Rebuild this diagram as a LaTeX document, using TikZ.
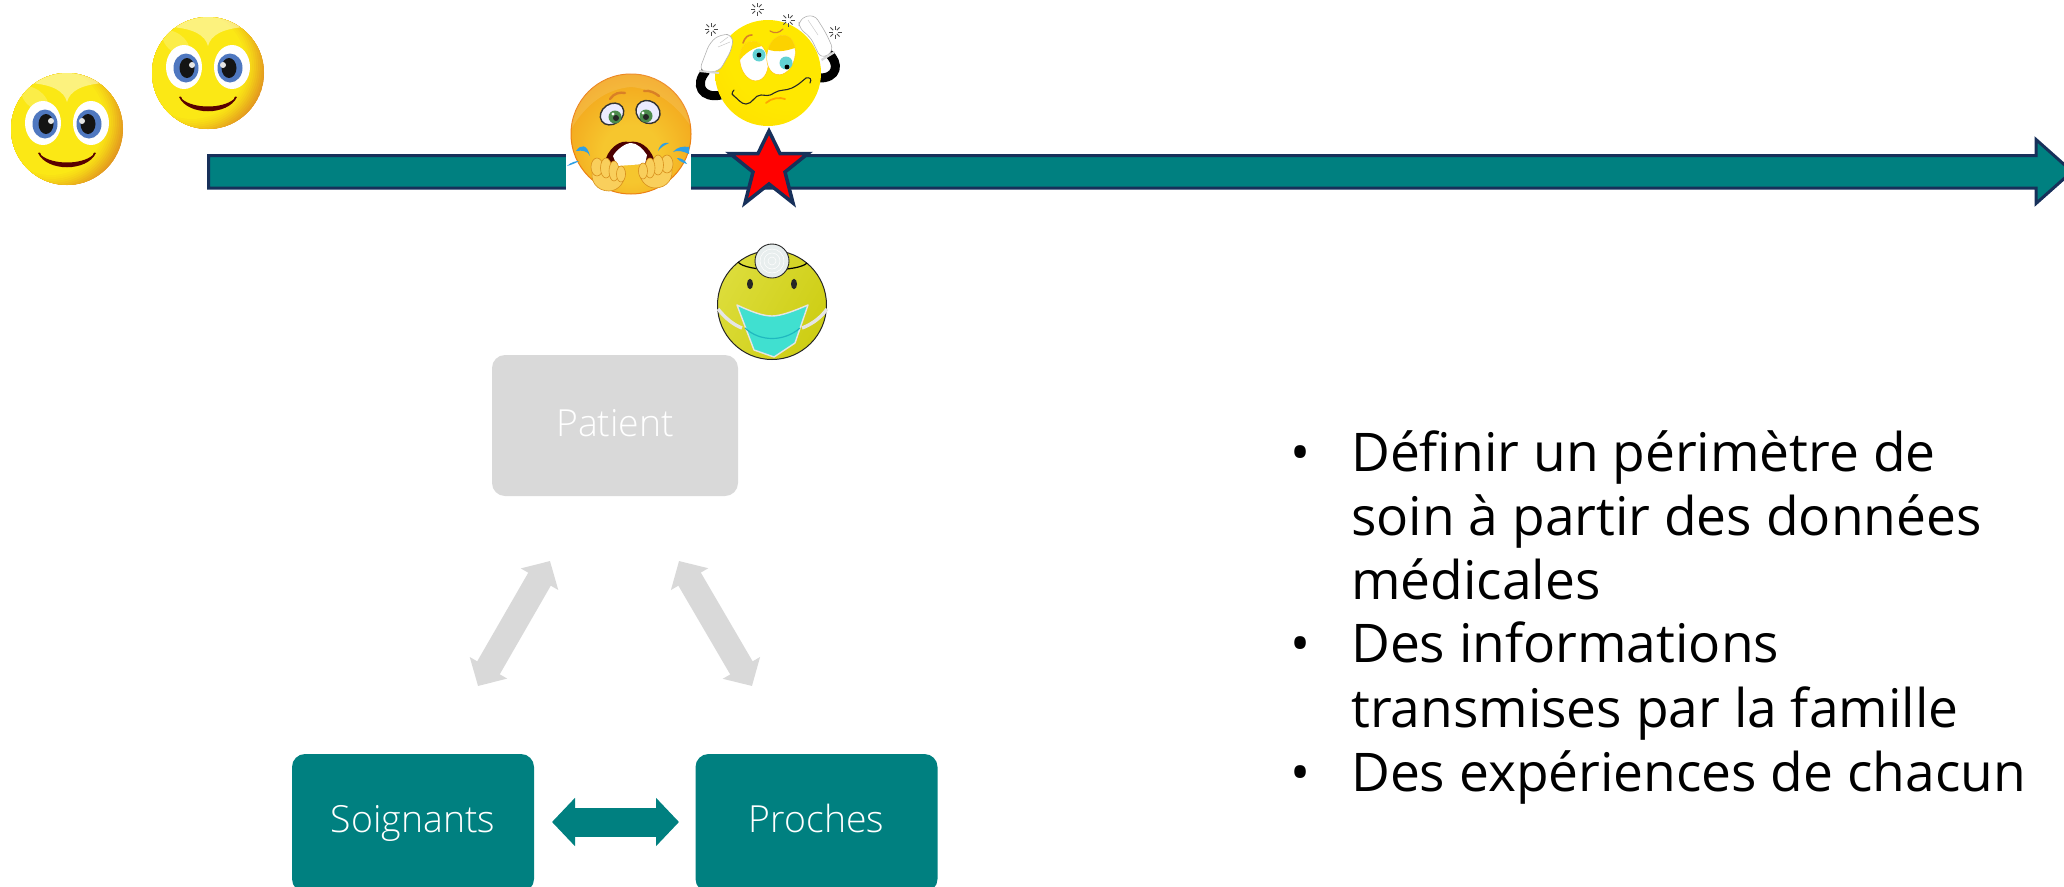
\documentclass[tikz,border=0pt]{standalone}
\usepackage{fontspec}
\setmainfont{Open Sans}
\newfontfamily\lightf{Open Sans Light}
\usetikzlibrary{arrows.meta}
\definecolor{tealc}{HTML}{008080}
\definecolor{navyc}{HTML}{17305A}
\definecolor{greyc}{HTML}{D9D9D9}
\definecolor{hy}{HTML}{FBE815}
\definecolor{ho}{HTML}{E2961F}
\definecolor{hiris}{HTML}{4F78C0}
\definecolor{oy}{HTML}{F6C62E}
\definecolor{oo}{HTML}{F3A91E}
\definecolor{oe}{HTML}{EC8A12}
\definecolor{wy}{HTML}{FFE800}
\definecolor{wo}{HTML}{FFD000}
\definecolor{wlid}{HTML}{FCD200}
\definecolor{wiris}{HTML}{62D2D4}
\definecolor{dy1}{HTML}{E4E44E}
\definecolor{dy2}{HTML}{C6C600}
\definecolor{maskc}{HTML}{40E0D0}
\definecolor{foldc}{HTML}{20B8C0}
\definecolor{tearc}{HTML}{2FA0E4}
\definecolor{handc}{HTML}{F9CF5C}
\definecolor{handl}{HTML}{D8901C}
\definecolor{mirrorc}{HTML}{E8EEEE}
\pgfdeclareradialshading{orangeball}{\pgfpoint{0bp}{-10bp}}{color(0bp)=(oy); color(12bp)=(oy); color(28bp)=(oo); color(50bp)=(oe); color(65bp)=(oe)}
\pgfdeclareradialshading{yellowball}{\pgfpoint{16bp}{20bp}}{color(0bp)=(wy); color(30bp)=(wy); color(70bp)=(wo); color(90bp)=(wo)}
\pgfdeclarehorizontalshading{docball}{100bp}{color(0bp)=(dy1); color(100bp)=(dy2)}
\tikzset{
  tealbox/.style={rectangle,rounded corners=13bp,fill=tealc,draw=none,inner sep=0pt,text=white,font=\lightf\fontsize{37.5}{45}\selectfont,text height=30bp},
  greybox/.style={tealbox,fill=greyc},
  bul/.style={anchor=base,inner sep=0pt,font=\fontsize{53.5}{64}\selectfont},
  line/.style={anchor=base west,inner sep=0pt,font=\fontsize{53.5}{64}\selectfont},
  finger/.style={fill=handc,draw=handl,line width=.6bp},
  spark/.pic={\foreach \a in {0,45,...,315}{\draw[line width=.9bp,black!70] (\a:2.5)--(\a:6.5);}},
  pics/fistp/.style={code={
    \begin{scope}[xscale=#1]
    \filldraw[finger] (-16,-4) .. controls (-20,8) and (-12,18) .. (0,18) .. controls (10,18) and (17,8) .. (16,-2) -- cycle;
    \filldraw[finger] (-12,-6) ellipse [x radius=6,y radius=9];
    \filldraw[finger] (-3,-5) ellipse [x radius=5.5,y radius=10];
    \filldraw[finger] (5,-2) ellipse [x radius=5,y radius=10];
    \filldraw[finger] (12,1) ellipse [x radius=4.5,y radius=8];
    \end{scope}
  }},
  pics/happy/.style={code={
    \begin{scope}
      \clip (0,0) circle (56);
      \fill[ho] (0,0) circle (57);
      \foreach \r/\p in {74/5,72/15,70/26,68/37,66/48,64/59,62/69,60/78,58/86,56/93,54/100}{
        \fill[hy!\p!ho] (-16,-8) circle (\r);
      }
      \fill[white,opacity=.45] (0,-27) .. controls (-3,-38) and (-14,-44) .. (-36,-46) -- (-36,-60) -- (36,-60) -- (36,-46) .. controls (14,-44) and (3,-38) .. (0,-27) -- cycle;
      \fill[white,opacity=.22,rotate around={-40:(-32,-30)}] (-32,-30) ellipse [x radius=16,y radius=9];
    \end{scope}
    \fill[white] (-24,-6) ellipse [x radius=18,y radius=22];
    \fill[white] (24,-6) ellipse [x radius=18,y radius=22];
    \fill[hiris] (-22,-5) ellipse [x radius=12.5,y radius=14.5];
    \fill[hiris] (22,-5) ellipse [x radius=12.5,y radius=14.5];
    \fill[black!92] (-21,-5) ellipse [x radius=7.5,y radius=10];
    \fill[black!92] (21,-5) ellipse [x radius=7.5,y radius=10];
    \fill[white!90!black] (-16,-8) circle (3);
    \fill[white!90!black] (15,-8) circle (3);
    \fill[red!35!black] (-29,24) .. controls (-20,43) and (20,43) .. (29,24) .. controls (29,23) and (26,23) .. (26,26) .. controls (15,36) and (-15,36) .. (-26,26) .. controls (-26,23) and (-29,23) .. (-29,24) -- cycle;
  }},
  pics/crying/.style={code={
    \shade[shading=orangeball] (0,0) circle (60);
    \draw[orange!70!brown,line width=1bp] (0,0) circle (60);
    \fill[white,opacity=.12] (0,-60) arc (-90:-175:60) .. controls (-45,-30) and (-25,-45) .. (0,-47) .. controls (25,-45) and (45,-30) .. (59.5,-8) arc (-5:-90:60) -- cycle;
    % brows
    \draw[orange!40!brown,line width=2.4bp,line cap=round] (-21,-35) .. controls (-17,-41) and (-11,-42) .. (-6,-41);
    \draw[orange!40!brown,line width=2.4bp,line cap=round] (13,-43) .. controls (19,-44) and (24,-41) .. (28,-38);
    % eyes
    \filldraw[fill=blue!8!white,draw=black!80,line width=1.4bp,rotate around={35:(-19,-20)}] (-19,-20) ellipse [x radius=12.5,y radius=10];
    \filldraw[fill=blue!8!white,draw=black!80,line width=1.4bp,rotate around={-35:(17,-22)}] (17,-22) ellipse [x radius=12.5,y radius=11];
    \fill[green!35!black!70] (-16,-17) circle (6.5);
    \fill[green!35!black!70] (15,-18) circle (6.5);
    \fill[black!85] (-15,-16) circle (3);
    \fill[black!85] (15,-17) circle (3);
    \fill[white] (-18,-20) circle (1.6);
    \fill[white] (12,-21) circle (1.6);
    % mouth
    \fill[red!30!black] (-25,24) .. controls (-20,12) and (-10,6) .. (-2,8) .. controls (8,6) and (18,12) .. (23,25) -- (20,30) -- (-22,30) -- cycle;
    \fill[white] (-18,22) .. controls (-14,15) and (-5,9) .. (0,9) .. controls (6,9) and (12,15) .. (16,21) -- (14,30) -- (-14,32) -- cycle;
    % tears
    \fill[tearc] (-55,17) .. controls (-50,10) and (-44,10) .. (-41,22) .. controls (-43,17) and (-49,16) .. (-55,17) -- cycle;
    \fill[tearc] (27,17) .. controls (29,10) and (33,8) .. (38,9) .. controls (34,11) and (30,13) .. (27,17) -- cycle;
    \fill[tearc] (42,18) .. controls (46,13) and (52,12) .. (58,13) -- (58,20) .. controls (52,17) and (46,16) .. (42,18) -- cycle;
    \fill[tearc] (46,24) .. controls (50,24) and (54,26) .. (56,30) .. controls (52,29) and (48,27) .. (46,24) -- cycle;
    \fill[tearc] (-64,32) .. controls (-60,28) and (-55,27) .. (-52,27) .. controls (-55,29) and (-60,31) .. (-64,32) -- cycle;
    \pic at (-22,39) {fistp=1};
    \pic at (24,36) {fistp=-1};
  }},
  pics/worried/.style={code={
    % arms
    \draw[black,line width=9bp] (-62,-2) .. controls (-74,12) and (-66,26) .. (-47,22);
    \draw[black,line width=9bp] (60,-20) .. controls (72,-10) and (70,6) .. (50,5);
    % face
    \shade[shading=yellowball] (0,0) circle (53);
    % eyes
    \filldraw[fill=white,draw=orange!50!yellow,line width=.4bp,rotate around={10:(-14,-12)}] (-14,-12) ellipse [x radius=14,y radius=20];
    \filldraw[fill=white,draw=orange!50!yellow,line width=.4bp,rotate around={-12:(13,-18)}] (13,-18) ellipse [x radius=14,y radius=20];
    \begin{scope}
      \clip[rotate around={-12:(13,-18)}] (13,-18) ellipse [x radius=14,y radius=20];
      \fill[wlid] (-5,-45) rectangle (35,-26) (-5,-26) .. controls (5,-20) and (15,-20) .. (35,-28) -- cycle;
    \end{scope}
    \begin{scope}
      \clip[rotate around={10:(-14,-12)}] (-14,-12) ellipse [x radius=14,y radius=20];
      \fill[wy!50!wo] (-32,-8) .. controls (-26,-16) and (-20,-24) .. (-6,-27) -- (-6,-40) -- (-32,-40) -- cycle;
    \end{scope}
    \fill[wiris] (-9,-18) circle (6.5);
    \fill[wiris] (18,-10) circle (6.5);
    \fill[black] (-9,-18) circle (2.4);
    \fill[black] (19,-6) circle (2.4);
    % brows
    \draw[orange!40!brown,line width=1.6bp,line cap=round] (-25,-30) .. controls (-23,-36) and (-20,-38) .. (-16,-38);
    \draw[orange!30!brown,line width=1.2bp,line cap=round] (2,-42) .. controls (7,-39) and (11,-40) .. (15,-44);
    % mouth
    \draw[black!85,line width=1.1bp,line cap=round] (-34,17) .. controls (-37,20) and (-36,23) .. (-34,23) .. controls (-30,26) and (-27,31) .. (-22,31) .. controls (-15,31) and (-14,22) .. (-7,22) .. controls (-2,22) and (0,24) .. (6,20) .. controls (12,16) and (18,18) .. (24,15) .. controls (30,12) and (32,10) .. (38,5) .. controls (42,4) and (44,6) .. (42,10);
    \draw[orange!70!yellow,line width=1.8bp,line cap=round] (-2,30) .. controls (3,25) and (12,24) .. (17,26);
    % gloves
    \filldraw[fill=white,draw=black!30,line width=.6bp,rounded corners=7bp] (-69,-2) -- (-58,-31) -- (-47,-39) -- (-35,-38) -- (-36,-24) -- (-49,-1) -- cycle;
    \filldraw[fill=white,draw=black!30,line width=.6bp,rounded corners=7bp] (31,-44) -- (31,-54) -- (46,-59) -- (58,-40) -- (66,-22) -- (53,-14) -- (42,-37) -- cycle;
    \fill[black!15] (-69,-3) -- (-49,-1) -- (-49,1) -- (-69,-1) -- cycle;
    \fill[black!15] (66,-22) -- (53,-14) -- (54,-12) -- (67,-20) -- cycle;
    \draw[black!25,line width=.4bp] (-48,-30) -- (-40,-36) (-50,-26) -- (-38,-31) (40,-53) -- (50,-38);
    % sparks
    \pic at (-57,-44) {spark};
    \pic at (-11,-64) {spark};
    \pic at (20,-53) {spark};
    \pic at (67,-41) {spark};
  }},
  pics/doctor/.style={code={
    \shade[shading=docball,shading angle=-30] (0,0) circle (54.5);
    \draw[black!85,line width=1bp] (0,0) circle (54.5);
    \draw[black,line width=1.2bp] (-34,-43) .. controls (-26,-33) and (26,-33) .. (35,-42);
    \fill[black!85] (-22,-21) ellipse [x radius=3,y radius=5.2];
    \fill[black!85] (22,-21) ellipse [x radius=3,y radius=5.2];
    \draw[black!10,line width=3.4bp] (-54,4) .. controls (-46,14) and (-38,20) .. (-30,23);
    \draw[black!10,line width=3.4bp] (55,4) .. controls (48,14) and (38,20) .. (30,23);
    \filldraw[fill=maskc,draw=black!10,line width=1.4bp,line join=round] (-35,0) .. controls (-22,6) and (-10,11) .. (0,11) .. controls (10,11) and (24,5) .. (36,0) -- (23,38) -- (2,52) -- (-18,45) -- cycle;
    \draw[foldc,line width=1.2bp] (-27,23) .. controls (-12,37) and (12,37) .. (28,23);
    \filldraw[fill=mirrorc,draw=black!85,line width=.9bp] (0,-44) circle (17);
    \draw[white,line width=.5bp] (0,-44) circle (4) (0,-44) circle (8) (0,-44) circle (12);
  }},
}
\begin{document}
\begin{tikzpicture}[x=1bp,y=-1bp]
\useasboundingbox (0,0) rectangle (2064,887);
% timeline
\draw[fill=tealc,draw=navyc,line width=3bp,miter limit=10] (208.5,155.5) -- (2036,155.5) -- (2036,139.5) -- (2072,171.5) -- (2036,203.5) -- (2036,188) -- (208.5,188) -- cycle;
% emojis on the timeline
\pic at (67,129) {happy};
\pic at (208,73) {happy};
\fill[white] (566,60) rectangle (691,198);
\pic at (631,134) {crying};
\draw[fill=red,draw=navyc,line width=3.5bp,miter limit=10] (769,131) -- (780,153.5) -- (808,153.5) -- (785,172) -- (793,203) -- (769,184) -- (745,203) -- (753,172) -- (730,153.5) -- (758,153.5) -- cycle;
\pic at (768,73) {worried};
\pic at (772,305) {doctor};
% boxes
\node[greybox,minimum width=246bp,minimum height=141bp,text depth=9bp] (patient) at (615,425.5) {Patient};
\node[tealbox,minimum width=242bp,minimum height=138bp,text depth=12bp] (soignants) at (413,823) {Soignants};
\node[tealbox,minimum width=242bp,minimum height=138bp,text depth=12bp] (proches) at (816.5,823) {Proches};
% connectors
\coordinate (pl) at (550,561);
\coordinate (sl) at (478,686);
\coordinate (pr) at (679,561);
\coordinate (pb) at (752,686);
\coordinate (sr) at (552,822);
\coordinate (pq) at (679,822);
\draw[line width=26bp,draw=greyc,{Triangle[length=21bp,width=42bp]}-{Triangle[length=21bp,width=42bp]}] (pl) -- (sl);
\draw[line width=26bp,draw=greyc,{Triangle[length=21bp,width=42bp]}-{Triangle[length=21bp,width=42bp]}] (pr) -- (pb);
\draw[line width=29bp,draw=tealc,{Triangle[length=23bp,width=47bp]}-{Triangle[length=23bp,width=47bp]}] (sr) -- (pq);
% text
\node[bul] (b1) at (1301,471) {•};
\node[bul] (b2) at (1301,662) {•};
\node[bul] (b3) at (1301,791) {•};
\node[line] (l1) at (1351,471) {Définir un périmètre de};
\node[line] (l2) at (1351,535) {soin à partir des données};
\node[line] (l3) at (1351,599) {médicales};
\node[line] (l4) at (1351,662) {Des informations};
\node[line] (l5) at (1351,727) {transmises par la famille};
\node[line] (l6) at (1351,791) {Des expériences de chacun};
\end{tikzpicture}
\end{document}
